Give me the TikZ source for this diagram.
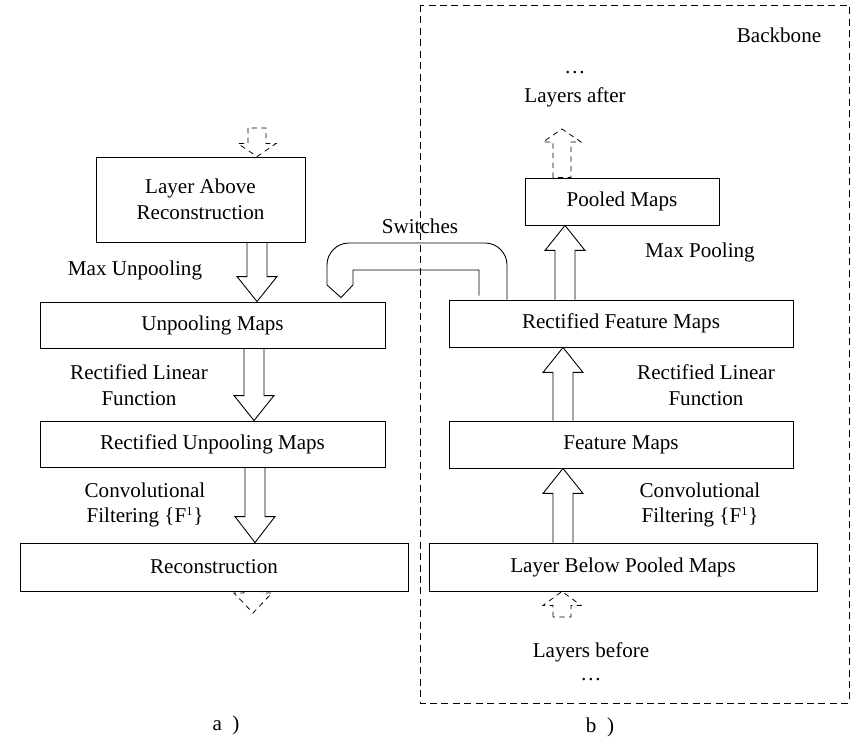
\documentclass[tikz,border=0pt]{standalone}
\usepackage{fontspec}
\setmainfont{Liberation Serif}
\usetikzlibrary{calc}

\tikzset{
  box/.style={draw, line width=0.5pt, inner sep=0pt, align=center},
  lbl/.style={align=center, inner sep=0pt},
  hollow/.style={draw, line width=0.5pt},
  ghost/.style={draw, line width=0.45pt, dash pattern=on 3pt off 2.5pt},
}

% solid block arrow: x, start anchor, tip anchor, signed head length
\newcommand{\pipe}[4]{%
  \coordinate (s) at (#1,0 |- #2);
  \coordinate (t) at (#1,0 |- #3);
  \draw[hollow] ($(s)+(-10,0)$) -- ($(t)+(-10,#4)$) -- ($(t)+(-20,#4)$) -- (t)
    -- ($(t)+(20,#4)$) -- ($(t)+(10,#4)$) -- ($(s)+(10,0)$);
}
% dashed block arrow: start, tip, signed head length
\newcommand{\ghostpipe}[3]{%
  \draw[ghost] ($(#1)+(-9,0)$) -- ($(#2)+(-9,#3)$) -- ($(#2)+(-19,#3)$) -- (#2)
    -- ($(#2)+(19,#3)$) -- ($(#2)+(9,#3)$) -- ($(#1)+(9,0)$) -- cycle;
}
\newcommand{\supone}{\textsuperscript{\fontsize{7}{7}\selectfont 1}}

\begin{document}
\begin{tikzpicture}[x=0.02cm, y=-0.02cm, font=\fontsize{12}{14.7}\selectfont]
  \useasboundingbox (0,0) rectangle (860,746);

  % backbone frame
  \draw[line width=0.45pt, dash pattern=on 4pt off 2.5pt] (420,5) rectangle (849,703);
  \node[lbl] (bb) at (779,35) {Backbone};

  % a) reconstruction side
  \node[box, minimum width=4.18cm, minimum height=1.70cm] (la) at (200.5,199.5) {Layer Above\\Reconstruction};
  \node[box, minimum width=6.90cm, minimum height=0.92cm] (up) at (212.5,325) {Unpooling Maps};
  \node[box, minimum width=6.90cm, minimum height=0.92cm] (rum) at (212.5,444) {Rectified Unpooling Maps};
  \node[box, minimum width=7.76cm, minimum height=0.96cm] (rec) at (214,567) {Reconstruction};

  \node[lbl] (mu) at (135,270) {Max Unpooling};
  \node[lbl] (rlf-a) at (139,385) {Rectified Linear\\Function};
  \node[lbl] (cf-a) at (145,505) {Convolutional\\Filtering \{F\supone\}};

  \pipe{257}{la.south}{up.north}{-25}
  \pipe{254}{up.south}{rum.north}{-25}
  \pipe{255}{rum.south}{rec.north}{-26}

  \coordinate (in-a) at (257,128);
  \coordinate (in-a-tip) at (257,0 |- la.north);
  \ghostpipe{in-a}{in-a-tip}{-13}
  \coordinate (out-a) at (253,0 |- rec.south);
  \coordinate (out-a-tip) at (253,613);
  \ghostpipe{out-a}{out-a-tip}{-20}

  % b) backbone side
  \node[box, minimum width=3.88cm, minimum height=0.94cm] (pm) at (622,201.5) {Pooled Maps};
  \node[box, minimum width=6.88cm, minimum height=0.94cm] (rfm) at (621,323.5) {Rectified Feature Maps};
  \node[box, minimum width=6.88cm, minimum height=0.94cm] (fm) at (621,444.5) {Feature Maps};
  \node[box, minimum width=7.76cm, minimum height=0.96cm] (lb) at (623,567) {Layer Below Pooled Maps};

  \node[lbl] (mp) at (700,252) {Max Pooling};
  \node[lbl] (rlf-b) at (706,385) {Rectified Linear\\Function};
  \node[lbl] (cf-b) at (700,505) {Convolutional\\Filtering \{F\supone\}};

  \pipe{563}{lb.north}{fm.south}{25}
  \pipe{563}{fm.north}{rfm.south}{25}
  \pipe{565}{rfm.north}{pm.south}{25}

  \coordinate (out-b) at (562,0 |- pm.north);
  \coordinate (out-b-tip) at (562,129);
  \ghostpipe{out-b}{out-b-tip}{13}
  \coordinate (in-b) at (562,617);
  \coordinate (in-b-tip) at (562,0 |- lb.south);
  \ghostpipe{in-b}{in-b-tip}{14}

  \node[lbl] (after-dots) at (575,73) {\dots};
  \node[lbl] (after) at (575,97) {Layers after};
  \node[lbl] (before) at (591,652) {Layers before};
  \node[lbl] (before-dots) at (591,680) {\dots};

  % switches
  \node[lbl] (sw) at (420,226) {Switches};
  \coordinate (sw-out) at (507,0 |- rfm.north);
  \coordinate (sw-in) at (479,0 |- rfm.north);
  \coordinate (sw-tip) at (341,0 |- up.north);
  \draw[line width=0.5pt, rounded corners=0.44cm] (sw-out) -- (507,243) -- (327,243) -- (327,285);
  \draw[line width=0.5pt] (327,285) -- ($(sw-tip)+(0,-4)$) -- (353,285) -- (353,270) -- (479,270) -- ($(sw-in)+(0,-4)$);

  \node[lbl] (cap-a) at (226,725) {a\enspace)};
  \node[lbl] (cap-b) at (600,727) {b\enspace)};
\end{tikzpicture}
\end{document}
